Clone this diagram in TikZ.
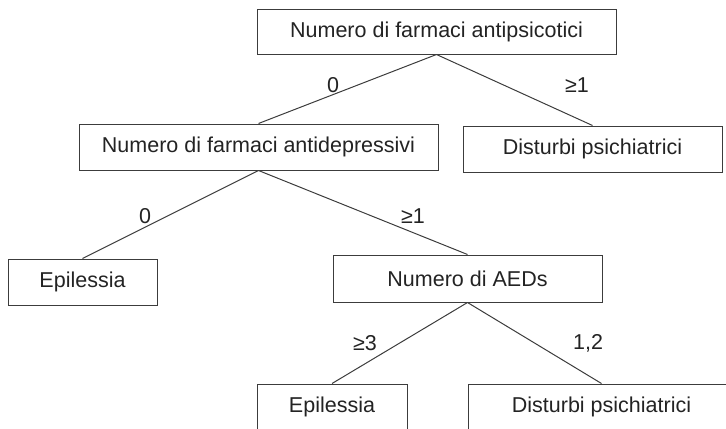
\documentclass[tikz,border=0pt]{standalone}
\usepackage{fontspec}
\setmainfont{Liberation Sans}
\usepackage{xcolor}
\definecolor{boxline}{RGB}{60,60,60}
\definecolor{txtgray}{RGB}{35,35,35}
\usepackage{tikz}
\usetikzlibrary{positioning}

\tikzset{
  treebox/.style={draw=boxline, line width=0.5pt, inner sep=0pt, minimum height=23pt,
    text=txtgray, font=\fontsize{10.75}{13}\selectfont},
  branchlbl/.style={inner sep=0pt, text=txtgray, font=\fontsize{10.75}{13}\selectfont},
  branch/.style={draw=boxline, line width=0.5pt}
}

\begin{document}
\begin{tikzpicture}[x=0.5pt, y=-0.5pt]
  \useasboundingbox (0,0) rectangle (726,428);
  \clip (0,0) rectangle (726,428);

  % --- Boxes ---
  \node[treebox, minimum width=179.5pt, minimum height=22.5pt] (antipsi) at (436.5,31.5) {Numero di farmaci antipsicotici};
  \node[treebox, minimum width=179.5pt] (antidep) at (258.5,147) {Numero di farmaci antidepressivi};
  \node[treebox, minimum width=129.5pt] (psichA) at (592.5,149) {Disturbi psichiatrici};
  \node[treebox, minimum width=74.5pt] (epiA) at (82.5,282) {Epilessia};
  \node[treebox, minimum width=134.5pt, minimum height=23.5pt] (aeds) at (467.5,278.5) {Numero di AEDs};
  \node[treebox, minimum width=75pt] (epiB) at (332,407) {Epilessia};
  \node[treebox, minimum width=133.5pt] (psichB) at (601.5,407) {Disturbi psichiatrici};

  % --- Branches ---
  \draw[branch] (antipsi.south) -- (antidep.north);
  \draw[branch] (antipsi.south) -- (psichA.north);
  \draw[branch] (antidep.south) -- (epiA.north);
  \draw[branch] (antidep.south) -- (aeds.north);
  \draw[branch] (aeds.south) -- (epiB.north);
  \draw[branch] (aeds.south) -- (psichB.north);

  % --- Branch labels ---
  \node[branchlbl] (l0a) at (333,85) {0};
  \node[branchlbl] (l1a) at (577,85) {≥1};
  \node[branchlbl] (l0b) at (145,216) {0};
  \node[branchlbl] (l1b) at (413,216) {≥1};
  \node[branchlbl] (l3c) at (365,343) {≥3};
  \node[branchlbl] (l12c) at (588,343) {1,2};
\end{tikzpicture}
\end{document}
